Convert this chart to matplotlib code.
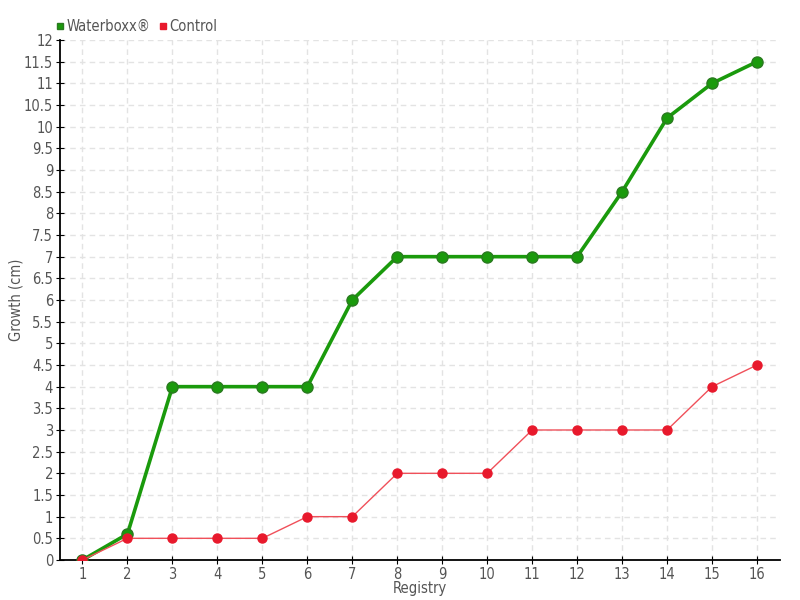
import numpy as np
import matplotlib
matplotlib.use("Agg")
from matplotlib import pyplot as plt

plt.rcParams['font.family'] = ['DejaVu Sans']
plt.rcParams['font.stretch'] = 'condensed'

registry = list(range(1, 17))
waterboxx = [0, 0.6, 4, 4, 4, 4, 6, 7, 7, 7, 7, 7, 8.5, 10.2, 11, 11.5]
control = [0, 0.5, 0.5, 0.5, 0.5, 1, 1, 2, 2, 2, 3, 3, 3, 3, 4, 4.5]
yticks = np.arange(0, 12.5, 0.5)

text_col = "#555555"
green = "#1a9a0c"
red = "#e8192c"

fig = plt.figure(figsize=(8, 6), dpi=100)
ax = fig.add_axes([0.075, 0.0667, 0.8994, 0.8666])

ax.plot(registry, waterboxx, color=green, lw=2.6, marker='o', ms=8,
        mfc=green, mec="#2a7a20", mew=1, zorder=4, label="Waterboxx®")
ax.plot(registry, control, color="#f0505a", lw=1, marker='o', ms=6.5,
        mfc=red, mec=red, zorder=5, label="Control")

ax.set_xlim(0.5, 16.5)
ax.set_ylim(0, 12)
ax.set_xticks(registry)
ax.set_yticks(yticks)
ax.set_yticklabels(["%g" % v for v in yticks])
ax.grid(True, color="#e3e3e3", ls=(0, (4, 3)), lw=1)
ax.set_axisbelow(True)
for s in ["top", "right"]:
    ax.spines[s].set_visible(False)
for s in ["left", "bottom"]:
    ax.spines[s].set_color("black")
    ax.spines[s].set_linewidth(1.3)
ax.tick_params(axis='both', colors="black", labelcolor=text_col, labelsize=10.5,
               direction='inout', length=6, pad=2)
ax.set_xlabel("Registry", color=text_col, fontsize=10.5, labelpad=-1)
ax.set_ylabel("Growth (cm)", color=text_col, fontsize=10.5, labelpad=0)

leg = fig.legend(loc='upper left', bbox_to_anchor=(0.054, 0.99), ncol=2,
                 frameon=False, fontsize=10.5, handlelength=0.5, handletextpad=0.2,
                 columnspacing=0.6, markerscale=0.6)
for h in leg.legend_handles:
    h.set_linestyle('')
    h.set_marker('s')
for t in leg.get_texts():
    t.set_color(text_col)

fig.savefig("out.png", dpi=100)
